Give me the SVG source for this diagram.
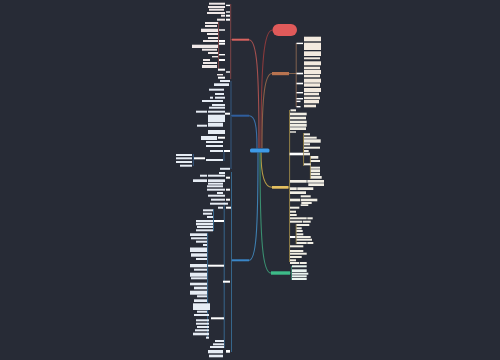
<svg xmlns="http://www.w3.org/2000/svg" width="500" height="360" viewBox="0 0 500 360">
<style>
.c{fill:none;stroke-width:1.1}
.v{fill:none;stroke-width:0.7}
.lr{fill:#efe7e7}
.lb{fill:#e6ecf4}
.lo{fill:#f3eadf}
.ly{fill:#f1eee4}
.lg{fill:#eaf4ef}
.s{fill:#ffffff}
</style>
<rect width="500" height="360" fill="#272b36"/>
<g id="connectors">
<path class="c" stroke="#a5504f" d="M259 148 C259 70 257 40 249 39.7"/>
<path class="c" stroke="#8a3a3c" d="M261 148 C261 60 264 30 272.5 30"/>
<path class="c" stroke="#8b6048" d="M262 148 C262 95 265 73.5 272 73.5"/>
<path class="c" stroke="#3b6ea5" d="M257 148.5 C257 125 255 115.7 249 115.7"/>
<path class="c" stroke="#b59b45" d="M261 152.5 C261 176 265 187.3 272 187.3"/>
<path class="c" stroke="#3a8f70" d="M260 152.5 C260 245 263 273 271 273"/>
<path class="c" stroke="#3e7fb0" d="M258 152.5 C258 232 256 260.3 249 260.3"/>
<path class="v" stroke="#a5504f" d="M232 39.7 H230.7 M230.7 4 V79 M218.6 22 V69"/>
<path class="v" stroke="#3b6ea5" d="M232 115.7 H231 M231 81 V169 M224 150 V161 M193.3 154 V166"/>
<path class="v" stroke="#3e7fb0" d="M232 260.3 H231.5 M231.5 172 V352 M224.2 202 V348 M207.6 233 V338 M213.5 209 V231"/>
<path class="v" stroke="#a77a58" d="M289 73.5 H296.2 M296.2 43 V107"/>
<path class="v" stroke="#c2a64c" d="M288.5 187.3 H289.6 M289.6 110 V262 M303.6 133 V166 M310.4 156 V179 M296.2 224 V244"/>
<path class="v" stroke="#3a9a78" d="M290 273 H291.5 M291.5 266 V280"/>
</g>
<g id="center"><rect x="250" y="148.5" width="19.5" height="4" rx="1.5" fill="#3d9ae8"/></g>
<g id="top"><rect x="272.5" y="24" width="24.5" height="12" rx="6" fill="#e05a5a"/></g>
<g id="b-red"><rect x="232" y="38.7" width="17" height="2" fill="#d9625e"/></g>
<g id="b-orange"><rect x="272" y="72" width="17" height="3.2" fill="#b87350"/></g>
<g id="b-blue1"><rect x="232" y="114.7" width="17" height="2" fill="#2f5e9e"/></g>
<g id="b-yellow"><rect x="272" y="186" width="16.5" height="2.7" fill="#e5c060"/></g>
<g id="b-green"><rect x="271" y="271.3" width="19" height="3.4" fill="#3dbb88"/></g>
<g id="b-blue2"><rect x="232" y="259.3" width="17" height="2" fill="#3a86c8"/></g>
<g id="red-leaves">
<g id="r1"><rect class="lr" x="209" y="2.7" width="16" height="2"/></g>
<g id="r2"><rect class="s" x="226" y="4.7" width="4" height="1.4"/></g>
<g id="r3"><rect class="lr" x="208" y="6" width="17" height="2"/></g>
<g id="r4"><rect class="lr" x="209" y="8.7" width="15" height="2"/></g>
<g id="r5"><rect class="s" x="226" y="11.3" width="4" height="1.4"/></g>
<g id="r6"><rect class="lr" x="207" y="12" width="18" height="2"/></g>
<g id="r7"><rect class="lr" x="221" y="14.7" width="4" height="2"/></g>
<g id="r8"><rect class="s" x="226" y="14.7" width="4" height="2"/></g>
<g id="r9"><rect class="lr" x="217" y="18.7" width="8" height="2"/></g>
<g id="r10"><rect class="s" x="226" y="18.7" width="4" height="2"/></g>
<g id="r11"><rect class="lr" x="205" y="22" width="13" height="2"/></g>
<g id="r12"><rect class="lr" x="205" y="25" width="12" height="2"/></g>
<g id="r13"><rect class="lr" x="201" y="28.7" width="17" height="3.3"/></g>
<g id="r14"><rect class="s" x="219" y="29.3" width="6" height="1.4"/></g>
<g id="r15"><rect class="lr" x="207" y="33" width="11" height="2"/></g>
<g id="r16"><rect class="lr" x="208" y="37" width="10" height="2"/></g>
<g id="r17"><rect class="lr" x="203" y="40" width="15" height="2"/></g>
<g id="r18"><rect class="s" x="219" y="40" width="6" height="2"/></g>
<g id="r19"><rect class="s" x="219" y="42.7" width="6" height="2"/></g>
<g id="r20"><rect class="lr" x="192" y="44.7" width="26" height="3.3"/></g>
<g id="r21"><rect class="lr" x="202" y="48.7" width="15" height="2"/></g>
<g id="r22"><rect class="lr" x="208" y="52" width="10" height="2"/></g>
<g id="r23"><rect class="s" x="219" y="54" width="6" height="1.4"/></g>
<g id="r24"><rect class="lr" x="212" y="56" width="6" height="1.4"/></g>
<g id="r25"><rect class="lr" x="203" y="59" width="7" height="2"/></g>
<g id="r26"><rect class="s" x="219" y="59" width="6" height="2"/></g>
<g id="r27"><rect class="lr" x="203" y="62" width="14" height="2"/></g>
<g id="r28"><rect class="lr" x="202" y="65" width="15" height="3"/></g>
<g id="r29"><rect class="s" x="218" y="68.7" width="7" height="2"/></g>
<g id="r30"><rect class="s" x="226" y="71.3" width="4" height="1.4"/></g>
<g id="r31"><rect class="lr" x="217" y="74" width="6" height="1.4"/></g>
<g id="r32"><rect class="s" x="218" y="76.7" width="7" height="2"/></g>
</g>
<g id="blue1-leaves">
<g id="a1"><rect class="lb" x="220" y="80" width="10" height="2"/></g>
<g id="a2"><rect class="lb" x="214" y="83.3" width="15" height="2.7"/></g>
<g id="a3"><rect class="lb" x="209" y="88.7" width="15" height="2"/></g>
<g id="a4"><rect class="lb" x="215" y="93" width="9" height="2"/></g>
<g id="a5"><rect class="lb" x="210" y="96.7" width="3" height="2"/></g>
<g id="a6"><rect class="lb" x="215" y="96.7" width="10" height="2"/></g>
<g id="a7"><rect class="lb" x="202" y="100" width="21" height="2"/></g>
<g id="a8"><rect class="lb" x="212" y="104" width="13" height="2"/></g>
<g id="a9"><rect class="lb" x="209" y="106.7" width="16" height="2"/></g>
<g id="a10"><rect class="lb" x="196" y="110.7" width="11" height="2"/></g>
<g id="a11"><rect class="lb" x="208" y="110.7" width="17" height="2"/></g>
<g id="a12"><rect class="s" x="225" y="112.7" width="5" height="2"/></g>
<g id="a13"><rect class="lb" x="208" y="114.7" width="17" height="7.3"/></g>
<g id="a14"><rect class="lb" x="208" y="122.7" width="15" height="4"/></g>
<g id="a15"><rect class="lb" x="197" y="124.7" width="10" height="2"/></g>
<g id="a16"><rect class="lb" x="208" y="130" width="17" height="4"/></g>
<g id="a17"><rect class="lb" x="201" y="136" width="16" height="4"/></g>
<g id="a18"><rect class="s" x="218" y="136.7" width="7" height="2"/></g>
<g id="a19"><rect class="lb" x="206" y="141" width="17" height="2"/></g>
<g id="a20"><rect class="lb" x="206" y="145" width="17" height="2"/></g>
<g id="a21"><rect class="lb" x="210" y="150" width="13" height="2"/></g>
<g id="a22"><rect class="s" x="224" y="150" width="6" height="2"/></g>
<g id="a23"><rect class="lb" x="176" y="154" width="16" height="2"/></g>
<g id="a24"><rect class="lb" x="176" y="157.3" width="16" height="2"/></g>
<g id="a25"><rect class="s" x="194" y="157.3" width="11" height="2"/></g>
<g id="a26"><rect class="lb" x="206" y="159" width="17" height="2"/></g>
<g id="a27"><rect class="lb" x="176" y="161" width="16" height="2"/></g>
<g id="a28"><rect class="lb" x="180" y="164.7" width="12" height="2"/></g>
<g id="a29"><rect class="lb" x="220" y="167.8" width="10" height="2"/></g>
</g>
<g id="blue2-leaves">
<g id="d1"><rect class="lb" x="219" y="172" width="6" height="2"/></g>
<g id="d2"><rect class="lb" x="200" y="174.7" width="7" height="2"/></g>
<g id="d3"><rect class="lb" x="208" y="174.7" width="17" height="2"/></g>
<g id="d4"><rect class="s" x="226" y="176.7" width="4" height="2"/></g>
<g id="d5"><rect class="lb" x="193" y="179.3" width="14" height="2.7"/></g>
<g id="d6"><rect class="lb" x="208" y="179.3" width="17" height="2.7"/></g>
<g id="d7"><rect class="lb" x="208" y="182.7" width="15" height="2"/></g>
<g id="d8"><rect class="lb" x="207" y="185.3" width="16" height="2"/></g>
<g id="d9"><rect class="lb" x="207" y="188.7" width="18" height="2"/></g>
<g id="d10"><rect class="s" x="226" y="188.7" width="4" height="2"/></g>
<g id="d11"><rect class="lb" x="217" y="192" width="6" height="2"/></g>
<g id="d12"><rect class="lb" x="208" y="194.7" width="17" height="2"/></g>
<g id="d13"><rect class="lb" x="211" y="198.7" width="14" height="2"/></g>
<g id="d14"><rect class="s" x="226" y="198.7" width="4" height="2"/></g>
<g id="d15"><rect class="lb" x="210" y="202.7" width="18" height="2"/></g>
<g id="d16"><rect class="lb" x="218" y="206.7" width="5" height="2"/></g>
<g id="d17"><rect class="s" x="226" y="206.7" width="5" height="2"/></g>
<g id="d18"><rect class="lb" x="203" y="209.3" width="10" height="2"/></g>
<g id="d19"><rect class="lb" x="203" y="212.7" width="9" height="2"/></g>
<g id="d20"><rect class="lb" x="207" y="216" width="6" height="2"/></g>
<g id="d21"><rect class="lb" x="196" y="220" width="17" height="2"/></g>
<g id="d22"><rect class="s" x="214" y="220" width="10" height="2"/></g>
<g id="d23"><rect class="lb" x="196" y="222.7" width="17" height="2.6"/></g>
<g id="d24"><rect class="lb" x="197" y="226" width="16" height="2"/></g>
<g id="d25"><rect class="lb" x="196" y="229.3" width="17" height="2"/></g>
<g id="d26"><rect class="lb" x="190" y="233.3" width="17" height="2.7"/></g>
<g id="d27"><rect class="lb" x="191" y="237.3" width="16" height="2"/></g>
<g id="d28"><rect class="lb" x="196" y="240.7" width="11" height="2"/></g>
<g id="d29"><rect class="lb" x="203" y="244" width="4" height="2"/></g>
<g id="d30"><rect class="lb" x="190" y="247.5" width="17" height="4.5"/></g>
<g id="d31"><rect class="lb" x="191" y="253.3" width="16" height="3.4"/></g>
<g id="d32"><rect class="lb" x="196" y="258" width="11" height="2"/></g>
<g id="d33"><rect class="lb" x="190" y="264" width="17" height="3.3"/></g>
<g id="d34"><rect class="s" x="208" y="264.7" width="16" height="2"/></g>
<g id="d35"><rect class="lb" x="194" y="268.7" width="13" height="2"/></g>
<g id="d36"><rect class="lb" x="190" y="272.7" width="17" height="4"/></g>
<g id="d37"><rect class="lb" x="191" y="277.3" width="16" height="2"/></g>
<g id="d38"><rect class="s" x="223" y="280.7" width="7" height="2"/></g>
<g id="d39"><rect class="lb" x="190" y="282.7" width="17" height="2.6"/></g>
<g id="d40"><rect class="lb" x="194" y="286.7" width="13" height="2.6"/></g>
<g id="d41"><rect class="lb" x="190" y="290.7" width="17" height="4"/></g>
<g id="d42"><rect class="lb" x="197" y="295.3" width="10" height="2"/></g>
<g id="d43"><rect class="lb" x="194" y="299.3" width="13" height="2.7"/></g>
<g id="d44"><rect class="lb" x="193" y="303.3" width="17" height="6.7"/></g>
<g id="d45"><rect class="lb" x="197" y="310.7" width="10" height="2"/></g>
<g id="d46"><rect class="lb" x="194" y="314" width="15" height="2"/></g>
<g id="d47"><rect class="s" x="211" y="317.3" width="13" height="2"/></g>
<g id="d48"><rect class="lb" x="196" y="319.3" width="13" height="2"/></g>
<g id="d49"><rect class="lb" x="196" y="322.7" width="13" height="2"/></g>
<g id="d50"><rect class="lb" x="197" y="326" width="12" height="2"/></g>
<g id="d51"><rect class="lb" x="195" y="329.3" width="14" height="2"/></g>
<g id="d52"><rect class="lb" x="193" y="332.7" width="16" height="2.6"/></g>
<g id="d53"><rect class="lb" x="206" y="336.7" width="3" height="2"/></g>
<g id="d54"><rect class="lb" x="215" y="340" width="9" height="2"/></g>
<g id="d55"><rect class="lb" x="213" y="343.3" width="11" height="2"/></g>
<g id="d56"><rect class="lb" x="210" y="346" width="14" height="2"/></g>
<g id="d57"><rect class="lb" x="208" y="350" width="15" height="3.3"/></g>
<g id="d58"><rect class="s" x="226" y="350" width="4" height="2.7"/></g>
<g id="d59"><rect class="lb" x="209" y="354.7" width="14" height="2.6"/></g>
</g>
<g id="orange-leaves">
<g id="o1"><rect class="lo" x="304" y="36.7" width="17" height="4.6"/></g>
<g id="o2"><rect class="lo" x="304" y="42.7" width="17" height="7.3"/></g>
<g id="o3"><rect class="lo" x="304" y="51.3" width="17" height="4.7"/></g>
<g id="o4"><rect class="lo" x="304" y="57.3" width="16" height="2"/></g>
<g id="o5"><rect class="lo" x="304" y="61.3" width="17" height="4"/></g>
<g id="o6"><rect class="lo" x="304" y="66.7" width="16" height="2.6"/></g>
<g id="o7"><rect class="lo" x="304" y="70" width="17" height="4"/></g>
<g id="o8"><rect class="lo" x="304" y="74.7" width="16" height="2.6"/></g>
<g id="o9"><rect class="lo" x="304" y="78.7" width="17" height="4"/></g>
<g id="o10"><rect class="lo" x="304" y="83.3" width="16" height="3.4"/></g>
<g id="o11"><rect class="lo" x="304" y="88" width="17" height="4"/></g>
<g id="o12"><rect class="lo" x="304" y="92.7" width="15" height="2.6"/></g>
<g id="o13"><rect class="lo" x="304" y="96.7" width="16" height="2.6"/></g>
<g id="o14"><rect class="lo" x="304" y="100" width="15" height="3.3"/></g>
<g id="o15"><rect class="lo" x="304" y="104.7" width="12" height="2.6"/></g>
<g id="o16"><rect class="s" x="296.5" y="42.7" width="6.5" height="1.4"/></g>
<g id="o17"><rect class="s" x="296.5" y="72.7" width="6.5" height="1.6"/></g>
<g id="o18"><rect class="s" x="296.5" y="82.7" width="6.5" height="1.6"/></g>
<g id="o19"><rect class="s" x="296.5" y="92" width="6.5" height="1.4"/></g>
<g id="o20"><rect class="s" x="296.5" y="98" width="6.5" height="1.4"/></g>
<g id="o21"><rect class="s" x="296.5" y="100.7" width="4" height="1.4"/></g>
<g id="o22"><rect class="s" x="296.5" y="106" width="4" height="1.4"/></g>
</g>
<g id="yellow-leaves">
<g id="y1"><rect class="ly" x="290.5" y="109.3" width="5.5" height="2"/></g>
<g id="y2"><rect class="ly" x="290" y="112.7" width="16.7" height="2.6"/></g>
<g id="y3"><rect class="ly" x="290" y="116.7" width="16" height="2.6"/></g>
<g id="y4"><rect class="ly" x="290" y="120.7" width="16.7" height="2.6"/></g>
<g id="y5"><rect class="ly" x="290" y="124" width="16.7" height="2.7"/></g>
<g id="y6"><rect class="ly" x="290" y="127.3" width="16" height="2.7"/></g>
<g id="y7"><rect class="ly" x="290" y="131.3" width="6" height="1.4"/></g>
<g id="y8"><rect class="ly" x="304" y="133.3" width="6" height="2"/></g>
<g id="y9"><rect class="ly" x="304" y="136.7" width="12.7" height="2"/></g>
<g id="y10"><rect class="ly" x="304" y="139.3" width="16.7" height="3.4"/></g>
<g id="y11"><rect class="ly" x="304" y="143.3" width="6" height="2"/></g>
<g id="y12"><rect class="ly" x="304" y="146.7" width="16" height="2"/></g>
<g id="y13"><rect class="ly" x="304" y="150" width="4.7" height="2"/></g>
<g id="y14"><rect class="s" x="289.6" y="152.7" width="13.7" height="2.6"/></g>
<g id="y15"><rect class="ly" x="304" y="152.7" width="6" height="2.6"/></g>
<g id="y16"><rect class="ly" x="310.7" y="156" width="7.6" height="2.7"/></g>
<g id="y17"><rect class="ly" x="310.7" y="160" width="9.3" height="2"/></g>
<g id="y18"><rect class="ly" x="304" y="163.3" width="6.7" height="2"/></g>
<g id="y19"><rect class="ly" x="310.7" y="166.7" width="9.3" height="2"/></g>
<g id="y20"><rect class="ly" x="310.7" y="169.3" width="9.3" height="2.7"/></g>
<g id="y21"><rect class="ly" x="310.7" y="172.7" width="9.3" height="2.6"/></g>
<g id="y22"><rect class="ly" x="310.7" y="176" width="11" height="2.7"/></g>
<g id="y23"><rect class="ly" x="290" y="180" width="16.7" height="2.7"/></g>
<g id="y24"><rect class="ly" x="307.3" y="180" width="16.7" height="2.7"/></g>
<g id="y25"><rect class="ly" x="308.3" y="183.3" width="15.7" height="2.7"/></g>
<g id="y26"><rect class="ly" x="290" y="187.3" width="6.7" height="2.7"/></g>
<g id="y27"><rect class="ly" x="297.3" y="187.3" width="16" height="2.7"/></g>
<g id="y28"><rect class="ly" x="290" y="191.3" width="16" height="2.7"/></g>
<g id="y29"><rect class="ly" x="300.7" y="195.3" width="10" height="2"/></g>
<g id="y30"><rect class="ly" x="290" y="198.7" width="10" height="2.6"/></g>
<g id="y31"><rect class="ly" x="300.7" y="198.7" width="16.6" height="2.6"/></g>
<g id="y32"><rect class="ly" x="301.3" y="202" width="10.4" height="2"/></g>
<g id="y33"><rect class="ly" x="300.7" y="204.3" width="7.6" height="1.7"/></g>
<g id="y34"><rect class="ly" x="290" y="206.7" width="9.3" height="2"/></g>
<g id="y35"><rect class="ly" x="290" y="210.7" width="6" height="2"/></g>
<g id="y36"><rect class="ly" x="290" y="214" width="6.7" height="2"/></g>
<g id="y37"><rect class="ly" x="290" y="217.3" width="16.7" height="2"/></g>
<g id="y38"><rect class="ly" x="307.3" y="217.3" width="5.4" height="2"/></g>
<g id="y39"><rect class="ly" x="290" y="220.7" width="12" height="2"/></g>
<g id="y40"><rect class="ly" x="302.7" y="220.7" width="8" height="2"/></g>
<g id="y41"><rect class="ly" x="296.5" y="224" width="12.8" height="2"/></g>
<g id="y42"><rect class="ly" x="296.5" y="227.3" width="5.2" height="2"/></g>
<g id="y43"><rect class="ly" x="296.5" y="230" width="6.2" height="2"/></g>
<g id="y44"><rect class="ly" x="296.5" y="233.3" width="6.8" height="2"/></g>
<g id="y45"><rect class="s" x="290" y="236" width="5.3" height="2"/></g>
<g id="y46"><rect class="ly" x="296.5" y="236" width="14.2" height="2"/></g>
<g id="y47"><rect class="ly" x="296.5" y="238.7" width="15.5" height="2"/></g>
<g id="y48"><rect class="ly" x="296.5" y="242" width="10.2" height="2"/></g>
<g id="y49"><rect class="ly" x="307.3" y="242" width="6" height="2"/></g>
<g id="y50"><rect class="ly" x="290" y="245.3" width="13.3" height="2"/></g>
<g id="y51"><rect class="ly" x="290" y="250" width="13.3" height="2"/></g>
<g id="y52"><rect class="ly" x="290" y="252.7" width="16.7" height="2"/></g>
<g id="y53"><rect class="ly" x="290" y="256" width="11.7" height="2"/></g>
<g id="y54"><rect class="ly" x="290" y="259.3" width="6" height="2"/></g>
<g id="y55"><rect class="ly" x="290" y="262" width="9.3" height="2"/></g>
<g id="y56"><rect class="ly" x="300" y="262" width="6.7" height="2"/></g>
</g>
<g id="green-leaves">
<g id="g1"><rect class="lg" x="292" y="265.3" width="14.7" height="2"/></g>
<g id="g2"><rect class="lg" x="292" y="269.3" width="14.7" height="2.7"/></g>
<g id="g3"><rect class="lg" x="292" y="272.7" width="16.3" height="2"/></g>
<g id="g4"><rect class="lg" x="292" y="275.3" width="14.7" height="2"/></g>
<g id="g5"><rect class="lg" x="292" y="278" width="14.7" height="2"/></g>
</g>
</svg>
